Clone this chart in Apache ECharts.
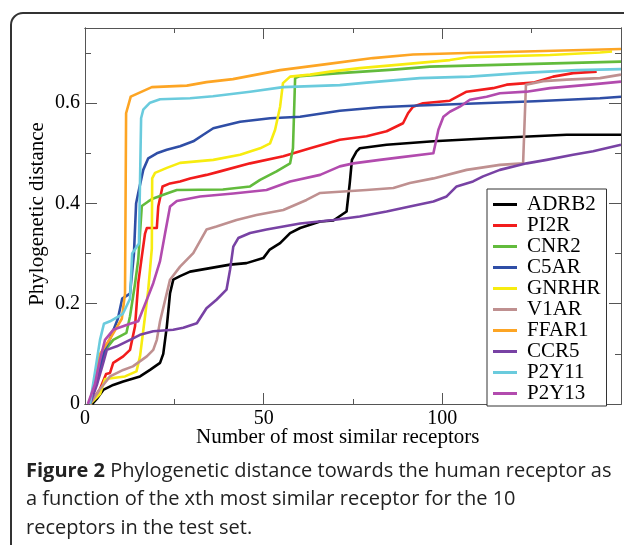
<!DOCTYPE html>
<html>
<head>
<meta charset="utf-8">
<script src="https://cdn.jsdelivr.net/npm/echarts@6/dist/echarts.min.js"></script>
<style>
  html, body { margin: 0; padding: 0; background: #fff; }
  #chart { width: 624px; height: 545px; }
</style>
</head>
<body>
<div id="chart"></div>
<script>
// receptor names (legend order)
const seriesNames = ["ADRB2", "PI2R", "CNR2", "C5AR", "GNRHR", "V1AR", "FFAR1", "CCR5", "P2Y11", "P2Y13"];
const seriesColors = ["#000000", "#f21c1c", "#62bb3c", "#2f4ea6", "#f7ec10", "#bf9090", "#fda524", "#7842a4", "#6acbdd", "#b24bae"];

// x = number of most similar receptors, y = phylogenetic distance
const adrb2 = [[2,0],[3.3,0.01],[5.1,0.028],[7.9,0.038],[10.7,0.045],[15.4,0.055],[18.2,0.068],[21,0.082],[21.9,0.1],[22.9,0.155],[23.8,0.221],[24.7,0.248],[26.6,0.255],[29.4,0.264],[35,0.271],[40.6,0.278],[45.2,0.281],[49.9,0.291],[51.7,0.308],[54.6,0.321],[57.4,0.341],[60.2,0.351],[65.8,0.364],[69.5,0.366],[73.2,0.384],[74.1,0.441],[74.7,0.487],[76,0.504],[76.9,0.51],[84.4,0.517],[97.5,0.524],[113.3,0.53],[134.8,0.537],[150,0.537]];
const pi2r = [[1.4,0],[4.2,0.03],[5.9,0.06],[7,0.062],[7.9,0.082],[10.7,0.095],[12.6,0.108],[14,0.155],[14.9,0.241],[15.9,0.294],[16.8,0.34],[17.3,0.351],[20.1,0.351],[20.5,0.394],[21.7,0.434],[23.8,0.44],[26.6,0.444],[29.4,0.45],[34,0.457],[37.8,0.464],[46.2,0.48],[55.5,0.494],[63,0.51],[71.3,0.527],[78.8,0.534],[84.4,0.544],[89,0.56],[90.4,0.58],[91.8,0.593],[94.6,0.6],[102.1,0.605],[106.8,0.623],[114.2,0.63],[118,0.637],[125.4,0.641],[131,0.653],[136.6,0.66],[143.2,0.663]];
const cnr2 = [[1.4,0],[4.2,0.08],[5.9,0.11],[7.9,0.128],[11.6,0.142],[12.6,0.175],[14,0.24],[14.9,0.288],[15.9,0.395],[17.7,0.404],[19.1,0.41],[22.9,0.42],[25.7,0.427],[38.6,0.428],[46.2,0.434],[49,0.447],[53.6,0.464],[57.4,0.48],[58.2,0.51],[58.8,0.65],[60.2,0.654],[71.3,0.66],[86.3,0.667],[96.5,0.673],[123.1,0.678],[150,0.683]];
const c5ar = [[1.4,0],[3.4,0.05],[5.6,0.11],[7,0.13],[9.2,0.17],[10.4,0.21],[12.6,0.22],[13.7,0.3],[14.3,0.4],[14.9,0.421],[16.3,0.467],[17.7,0.49],[20.1,0.5],[22.9,0.507],[26.6,0.514],[30.3,0.524],[33.1,0.537],[35.9,0.55],[43.4,0.563],[51.8,0.57],[60.2,0.573],[71.3,0.585],[82.5,0.592],[91.8,0.595],[125.9,0.604],[144.1,0.61],[150,0.613]];
const gnrhr = [[1.4,0],[4.2,0.02],[5.6,0.05],[11.2,0.055],[14.4,0.065],[15.4,0.095],[16.8,0.175],[17.7,0.228],[18.7,0.31],[18.8,0.45],[19.6,0.461],[22.9,0.471],[26.6,0.481],[35.9,0.487],[43.4,0.497],[49,0.51],[51.8,0.52],[53.2,0.547],[54.6,0.593],[55.4,0.64],[57.4,0.653],[63,0.657],[68.6,0.663],[76.9,0.67],[88.1,0.677],[102.1,0.686],[107.7,0.692],[130.1,0.696],[144.1,0.701],[147.5,0.703]];
const v1ar = [[1.4,0],[4.2,0.03],[7,0.055],[10.7,0.068],[13.4,0.075],[17.3,0.095],[19.1,0.108],[20.1,0.128],[21,0.165],[23.8,0.248],[26.6,0.274],[30.3,0.301],[34,0.348],[36.8,0.354],[42.4,0.367],[48,0.377],[55.5,0.387],[62,0.407],[65.8,0.421],[78.8,0.427],[86.3,0.431],[90.9,0.441],[97.5,0.45],[106.8,0.467],[116.1,0.477],[122.6,0.48],[123.4,0.637],[128.2,0.644],[134.8,0.647],[144.1,0.65],[150,0.657]];
const ffar1 = [[1.4,0],[4.2,0.1],[7,0.13],[10.3,0.17],[11.2,0.22],[11.5,0.58],[12.8,0.613],[18.7,0.632],[28.5,0.635],[34,0.642],[41.4,0.648],[54.6,0.666],[67.6,0.678],[80.6,0.69],[91.8,0.697],[106.8,0.7],[139.3,0.706],[150,0.708]];
const ccr5 = [[1.4,0],[3.4,0.04],[5.1,0.082],[6.1,0.108],[8.9,0.115],[12.6,0.128],[15.4,0.138],[19.1,0.145],[24.7,0.148],[27.5,0.152],[31.3,0.161],[34,0.191],[36.8,0.208],[39.6,0.228],[40.6,0.268],[41.5,0.314],[42.9,0.331],[46.2,0.341],[50.8,0.348],[55.5,0.354],[60.2,0.36],[69.5,0.367],[76.9,0.374],[84.4,0.384],[90.9,0.394],[97.5,0.404],[101.2,0.414],[104,0.434],[108.6,0.444],[111.4,0.454],[116.1,0.467],[123.6,0.48],[129.2,0.487],[136.6,0.497],[142.2,0.504],[150,0.517]];
const p2y11 = [[1.4,0],[4.2,0.128],[5.3,0.16],[7,0.165],[10.6,0.18],[12.6,0.21],[13.2,0.3],[15.1,0.32],[15.7,0.57],[16.3,0.587],[18.2,0.601],[21,0.608],[29.4,0.61],[35.8,0.614],[46.2,0.623],[55.4,0.632],[71.3,0.636],[78.8,0.641],[93.7,0.65],[107.7,0.653],[121.7,0.66],[137.6,0.666],[150,0.668]];
const p2y13 = [[0.8,0],[2.8,0.04],[4.2,0.088],[5.6,0.128],[7.9,0.148],[12.6,0.16],[14.9,0.165],[17.3,0.208],[19.1,0.241],[21,0.285],[22.4,0.34],[23.8,0.394],[25.7,0.405],[32.2,0.414],[41.5,0.42],[50.8,0.427],[57.4,0.444],[65.8,0.457],[71.3,0.474],[75.1,0.48],[82.5,0.487],[88.1,0.492],[97.5,0.5],[98.9,0.547],[100.3,0.573],[102.1,0.583],[104.9,0.593],[107.7,0.607],[112.4,0.613],[116.1,0.62],[123.6,0.623],[130.1,0.63],[141.3,0.637],[150,0.643]];

const seriesData = [adrb2, pi2r, cnr2, c5ar, gnrhr, v1ar, ffar1, ccr5, p2y11, p2y13];

// axis ranges / ticks
const xMin = 0, xMax = 150, xMajor = 50, xMinor = 25;
const yMin = 0, yMax = 0.75, yMajor = 0.2, yMinor = 0.1;
const xTitle = "Number of most similar receptors";
const yTitle = "Phylogenetic distance";

const serif = "'Liberation Serif', 'DejaVu Serif', serif";
const frameColor = "#555";

function xAxisDef(pos, interval, tickLen, labels) {
    return {
        type: "value", position: pos, min: xMin, max: xMax, interval: interval,
        axisLine: { show: true, onZero: false, lineStyle: { color: frameColor, width: 1 } },
        axisTick: { show: true, inside: true, length: tickLen, lineStyle: { color: frameColor } },
        axisLabel: {
            show: labels, color: "#000", fontFamily: serif, fontSize: 20, margin: 5,
            // the last label is cut off at the frame edge in the figure
            formatter: (v) => (v >= xMax ? "" : String(v)),
        },
        splitLine: { show: false },
    };
}
function yAxisDef(pos, interval, tickLen, labels) {
    return {
        type: "value", position: pos, min: yMin, max: yMax, interval: interval,
        axisLine: { show: true, onZero: false, lineStyle: { color: frameColor, width: 1 } },
        axisTick: { show: true, inside: true, length: tickLen, lineStyle: { color: frameColor } },
        axisLabel: {
            show: labels, color: "#000", fontFamily: serif, fontSize: 20, margin: 5,
            formatter: (v) => (Math.abs(v - yMax) < 1e-9 ? "" : String(Math.round(v * 10) / 10)),
        },
        splitLine: { show: false },
    };
}

const chart = echarts.init(document.getElementById("chart"), null, { renderer: "canvas" });

const option = {
    animation: false,
    backgroundColor: "#fff",
    grid: { left: 85, top: 28, right: 2, bottom: 141, containLabel: false },
    xAxis: [
        xAxisDef("bottom", xMajor, 11, true),
        xAxisDef("bottom", xMinor, 5, false),
        xAxisDef("top", xMajor, 11, false),
        xAxisDef("top", xMinor, 5, false),
    ],
    yAxis: [
        yAxisDef("left", yMajor, 12, true),
        yAxisDef("left", yMinor, 6, false),
        yAxisDef("right", yMajor, 12, false),
        yAxisDef("right", yMinor, 6, false),
    ],
    legend: {
        orient: "vertical",
        left: 487, top: 189,
        width: 129,
        padding: [5, 6, 2, 6],
        backgroundColor: "#fff",
        borderColor: "#333",
        borderWidth: 1,
        itemWidth: 24, itemHeight: 3, itemGap: 0,
        icon: "rect",
        textStyle: { fontFamily: serif, fontSize: 21, color: "#000", lineHeight: 19.7, padding: [0, 0, 0, 5] },
        data: seriesNames,
    },
    series: seriesNames.map((name, i) => ({
        name: name,
        type: "line",
        xAxisIndex: 0, yAxisIndex: 0,
        data: seriesData[i],
        showSymbol: false,
        symbol: "none",
        color: seriesColors[i],
        lineStyle: { width: 2.6, color: seriesColors[i], join: "round" },
        z: 2 + i,
    })),
    graphic: [
        {
            type: "rect", z: -10, silent: true,
            shape: { x: 11, y: 13, width: 700, height: 600, r: 12 },
            style: { fill: "none", stroke: "#333", lineWidth: 2 },
        },
        {
            type: "text", left: 196, top: 427,
            style: { text: xTitle, font: "21px " + serif, fill: "#000" },
        },
        {
            type: "text", x: 37, y: 214, rotation: Math.PI / 2, originX: 0, originY: 0,
            style: { text: yTitle, font: "21px " + serif, fill: "#000", align: "center", verticalAlign: "middle" },
        },
        {
            type: "text", left: 26, top: 457,
            style: {
                text: "{b|Figure 2} Phylogenetic distance towards the human receptor as\na function of the xth most similar receptor for the 10\nreceptors in the test set.",
                font: "20px 'Open Sans', sans-serif",
                fill: "#222",
                lineHeight: 28.5,
                rich: { b: { fontWeight: "bold", fontSize: 20, fontFamily: "'Open Sans', sans-serif", fill: "#222", lineHeight: 28.5 } },
            },
        },
    ],
};

chart.setOption(option);
</script>
</body>
</html>
